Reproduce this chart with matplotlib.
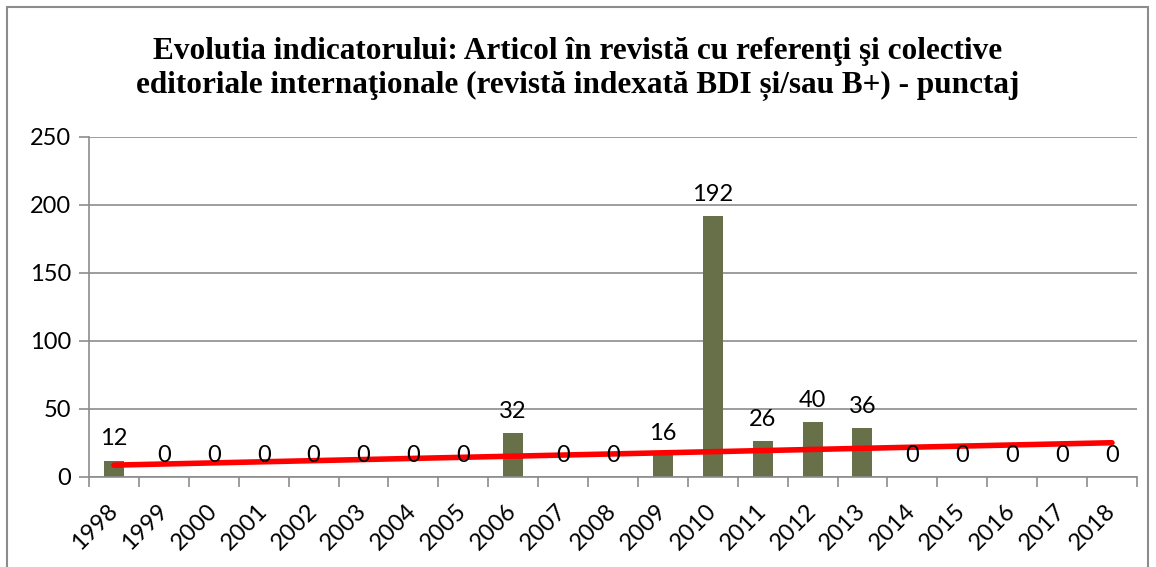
import numpy as np
import matplotlib.pyplot as plt
from matplotlib.patches import Rectangle

years = [str(y) for y in range(1998, 2019)]
scores = [12, 0, 0, 0, 0, 0, 0, 0, 32, 0, 0, 16, 192, 26, 40, 36, 0, 0, 0, 0, 0]
title = ("Evolutia indicatorului: Articol în revistă cu referenţi şi colective\n"
         "editoriale internaţionale (revistă indexată BDI și/sau B+) - punctaj")

plt.rcParams['font.family'] = ['Lato', 'DejaVu Sans']

fig = plt.figure(figsize=(11.56, 5.67), dpi=100)
ax = fig.add_axes([0.077, 0.159, 0.9065, 0.5995])

x = np.arange(len(years))
ax.bar(x, scores, width=0.4, color='#68704A', zorder=2)

# linear trend line
k, b = np.polyfit(x, scores, 1)
ax.plot([x[0], x[-1]], [k * x[0] + b, k * x[-1] + b], color='#FF0000', lw=4,
        solid_capstyle='round', zorder=3)

for xi, v in zip(x, scores):
    ax.annotate(str(v), (xi, v), textcoords='offset points', xytext=(0, 8),
                ha='center', va='bottom', fontsize=17, zorder=4)

ax.set_xlim(-0.5, len(years) - 0.5)
ax.set_ylim(0, 250)
ax.set_yticks(range(0, 251, 50))
ax.grid(axis='y', color='#8C8C8C', lw=1.2, zorder=0)
ax.set_axisbelow(True)

ax.set_xticks(x)
ax.set_xticklabels(years, rotation=45, ha='right', va='center',
                   rotation_mode='anchor', fontsize=17)
ax.tick_params(axis='x', length=0, pad=22)
ax.set_xticks(np.arange(-0.5, len(years)), minor=True)
ax.tick_params(axis='x', which='minor', length=7, color='#8C8C8C', width=1.2)
ax.tick_params(axis='y', labelsize=17, length=7, color='#8C8C8C', width=1.2, pad=6)

for s in ['top', 'right']:
    ax.spines[s].set_visible(False)
for s in ['left', 'bottom']:
    ax.spines[s].set_color('#8C8C8C')
    ax.spines[s].set_linewidth(1.2)

fig.text(0.5, 0.879, title, ha='center', va='center', fontsize=22.5,
         fontweight='bold', family=['Liberation Serif', 'DejaVu Serif'],
         linespacing=1.22)

fig.patches.append(Rectangle((7 / 1156, -0.1), 1141 / 1156, 1.1 - 7 / 567,
                             transform=fig.transFigure, fill=False,
                             edgecolor='#8C8C8C', lw=1.5))

plt.savefig('out.png', dpi=100)
